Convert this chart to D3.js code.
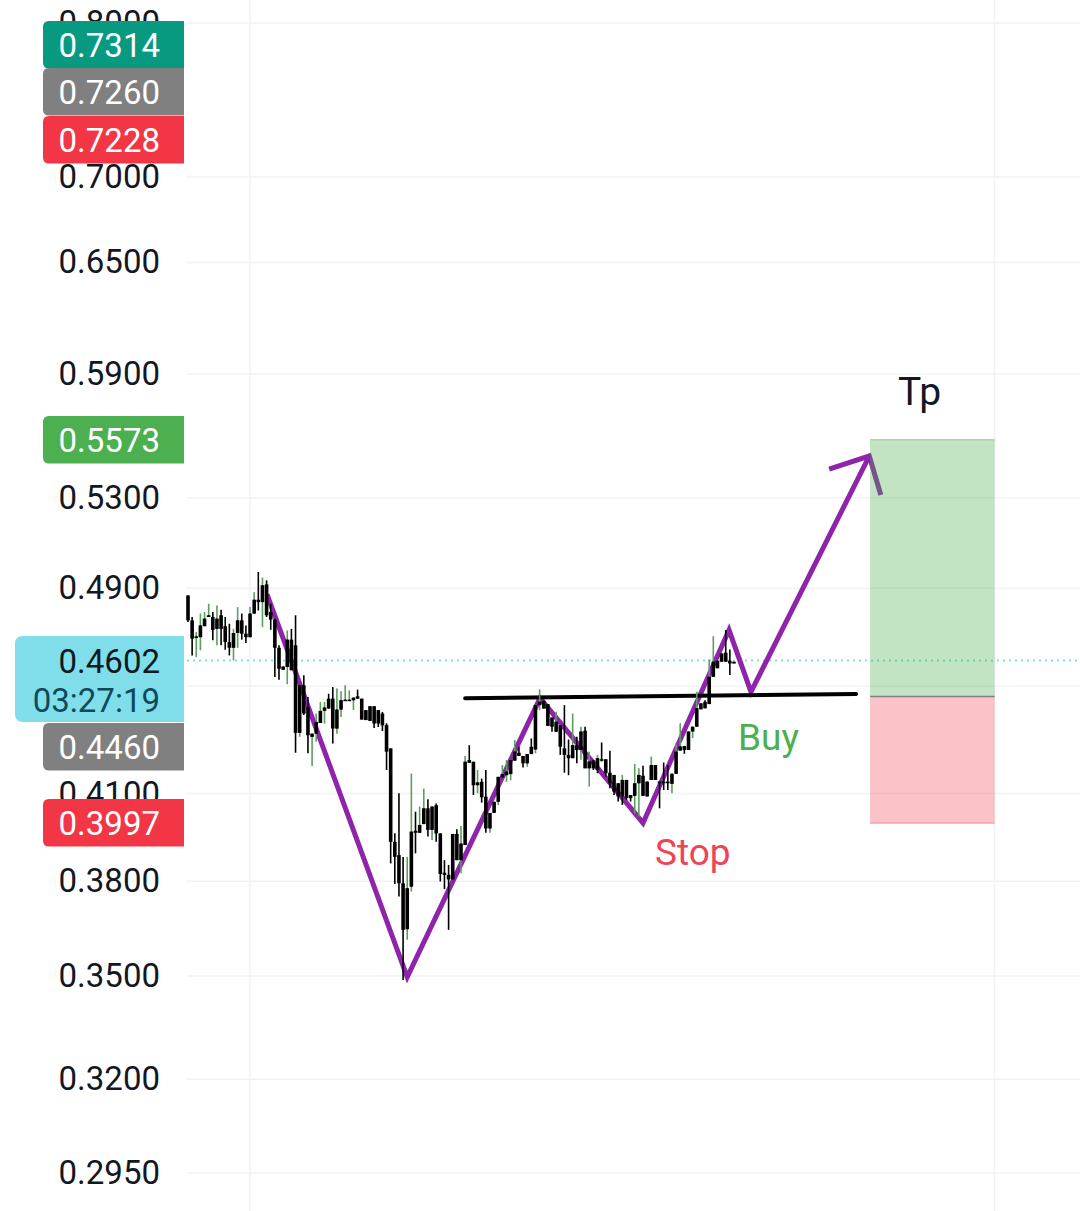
<!DOCTYPE html>
<html>
<head>
<meta charset="utf-8">
<script src="https://cdn.jsdelivr.net/npm/d3@7"></script>
<style>
  html, body { margin: 0; padding: 0; background: #fff; }
  svg { display: block; }
  text { font-family: Roboto, sans-serif; }
</style>
</head>
<body>
<div id="chart"></div>
<script>
// candle bodies, one entry per bar
var bodyTop = [
  .4869,.4765,.4699,.4744,.4772,.4786,.4779,.4772,.4786,.4741,
  .4676,.4713,.4765,.4765,.4710,.4793,.4851,.4851,.4912,.4916,
  .4800,.4768,.4653,.4578,.4686,.4686,.4663,.4504,.4504,.4420,
  .4319,.4363,.4405,.4418,.4452,.4452,.4410,.4446,.4448,.4448,
  .4456,.4461,.4452,.4408,.4423,.4423,.4408,.4395,
  .4351,.4264,.3932,.3887,.3793,.3777,.3967,.3970,.3990,.4048,
  .4048,.4054,.4059,.3961,.3828,.3821,.3959,.3959,.3926,.4215,
  .4221,.4215,.4140,.4142,.4089,.4032,.4071,.4160,.4170,.4179,
  .4221,.4252,.4248,.4236,.4243,.4270,.4427,.4440,.4444,.4431,
  .4380,.4364,.4351,.4264,.4240,.4276,.4276,.4327,.4330,.4216,
  .4219,.4228,.4224,.4224,.4175,.4167,.4137,.4149,.4149,.4095,
  .4137,.4167,.4164,.4143,.4203,.4203,.4143,.4143,.4143,.4171,
  .4252,.4271,.4273,.4327,.4345,.4415,.4434,.4440,.4537,.4597,
  .4601,.4630,.4633,.4601,.4597
];
var bodyBottom = [
  .4765,.4690,.4694,.4696,.4741,.4779,.4726,.4730,.4730,.4676,
  .4653,.4653,.4713,.4710,.4696,.4696,.4793,.4841,.4841,.4786,
  .4768,.4653,.4569,.4565,.4576,.4563,.4322,.4322,.4395,.4313,
  .4307,.4319,.4359,.4405,.4414,.4338,.4338,.4410,.4443,.4443,
  .4446,.4452,.4372,.4370,.4367,.4357,.4357,.4350,
  .4252,.3932,.3881,.3793,.3643,.3645,.3782,.3963,.3963,.3993,
  .3973,.3973,.3961,.3824,.3821,.3806,.3806,.3870,.3870,.3921,
  .4211,.4130,.4130,.4087,.3978,.3978,.4032,.4071,.4158,.4166,
  .4170,.4219,.4236,.4209,.4209,.4243,.4260,.4427,.4414,.4348,
  .4345,.4326,.4270,.4240,.4228,.4228,.4258,.4258,.4191,.4191,
  .4191,.4185,.4219,.4173,.4137,.4107,.4090,.4090,.4084,.4084,
  .4092,.4137,.4092,.4090,.4149,.4149,.4137,.4137,.4137,.4135,
  .4171,.4256,.4258,.4258,.4327,.4345,.4411,.4415,.4431,.4537,
  .4571,.4597,.4597,.4590,.4590
];
// black wicks, null = no wick past the body
var wickHigh = [
  null,.4779,null,null,null,null,.4800,null,.4809,.4779,
  .4751,null,null,.4793,.4744,null,null,.4969,null,.4933,
  .4834,.4772,.4663,null,null,.4730,.4786,null,.4543,.4458,
  null,null,null,null,.4471,.4497,null,null,null,null,
  null,.4487,null,null,null,null,null,.4401,
  .4358,null,.3961,.4101,.3881,null,null,.4036,null,null,
  .4080,null,.4065,null,.3870,.3854,null,.3975,null,null,
  .4276,null,null,.4154,.4185,null,null,null,null,null,
  null,null,.4270,null,null,.4301,null,null,null,null,
  null,null,null,.4427,.4297,null,.4307,null,.4345,null,
  .4222,null,.4286,null,.4255,null,null,null,null,null,
  null,null,.4200,null,null,null,null,.4212,.4203,null,
  null,null,null,null,null,null,null,.4446,null,null,
  null,null,.4725,.4646,null
];
var wickLow = [
  .4758,.4622,null,null,null,null,.4683,null,.4663,.4645,
  .4622,null,null,.4686,.4672,null,null,.4806,null,.4779,
  .4726,.4536,.4526,null,null,null,.4248,null,.4389,.4246,
  null,null,null,null,null,.4282,null,null,null,null,
  null,null,null,null,null,.4340,.4344,.4329,
  .4185,.3859,.3791,.3750,.3488,null,null,.3893,null,null,
  .3950,null,.3932,.3799,.3774,.3643,null,null,null,null,
  null,.4095,null,.4068,.3963,null,null,null,null,null,
  null,null,null,.4194,null,null,null,null,null,null,
  .4326,null,.4240,.4175,.4166,null,.4209,null,null,null,
  .4185,.4173,.4216,.4161,.4119,.4095,.4072,.4060,.4078,.4072,
  null,null,null,null,null,null,.4048,.4113,.4113,null,
  null,null,.4244,null,null,null,null,null,null,null,
  null,null,null,.4544,null
];
// thin green wicks
var greenHigh = [
  null,null,.4717,.4793,.4800,.4834,null,.4827,null,null,
  null,.4730,.4820,null,null,.4820,.4883,null,.4945,null,
  null,null,null,null,.4723,null,null,null,null,null,
  null,.4395,.4439,.4439,null,null,.4491,.4481,.4504,.4484,
  null,null,null,null,null,null,null,null,
  null,null,null,null,null,.3881,.4172,null,.4054,.4118,
  null,null,null,null,null,null,null,null,.3986,.4236,
  null,null,.4185,null,null,null,null,null,.4203,.4221,
  null,.4295,null,null,null,null,null,.4488,null,null,
  null,.4402,null,null,null,.4395,null,.4345,null,.4252,
  null,.4240,null,null,null,null,null,.4167,null,null,
  .4207,.4191,null,null,.4234,null,null,null,null,.4173,
  .4283,.4358,null,null,null,.4479,null,null,.4606,.4700,
  null,null,null,null,null
];
var greenLow = [
  null,null,.4615,.4643,null,.4779,null,.4663,null,null,
  null,.4602,.4653,null,null,null,null,null,.4737,null,
  null,null,null,null,.4508,null,null,.4307,null,null,
  .4199,.4289,null,.4357,null,null,.4319,.4382,.4443,null,
  .4408,null,null,null,null,null,null,null,
  null,null,null,null,null,.3612,.3766,null,null,null,
  null,.3938,null,null,null,null,null,null,.3826,null,
  null,null,.4101,null,null,.3963,null,.4059,null,.4142,
  .4148,null,null,null,.4197,null,.4246,.4408,null,null,
  null,null,null,null,null,null,null,.4222,null,.4125,
  null,null,null,null,null,null,null,null,null,null,
  .4030,.4019,null,null,null,null,null,null,null,.4101,
  null,null,null,null,.4302,null,null,null,null,null,
  null,null,null,null,null
];

var priceTicks = [0.8, 0.7, 0.65, 0.59, 0.53, 0.49, 0.45, 0.41, 0.38, 0.35, 0.32, 0.295];
var timeGridBars = [15, 195];

// hand drawn pattern, [bar, price]
var patternBars   = [19.1, 53, 85.1, 110, 130.8, 136.1, 164.7];
var patternPrices = [.4874, .3497, .4454, .3997, .4725, .4478, .5495];
var arrowBars     = [155, 164.7, 167.5];
var arrowPrices   = [.5433, .5495, .5312];
var necklineBars   = [67, 161.5];
var necklinePrices = [.4454, .4470];

var boxBars = [164.9, 195];
var targetPrice = 0.5573, entryPrice = 0.4460, stopPrice = 0.3997;
var lastPrice = 0.4602;

var labelTexts  = ["0.7314", "0.7260", "0.7228", "0.5573", "0.4460", "0.3997"];
var labelColors = ["#089981", "#808080", "#f23645", "#4caf50", "#808080", "#f23645"];
var labelTops   = [21, 68, 116, 416, 723, 799]; // stacked by the app, not at their price

var width = 1080, height = 1211;

var svg = d3.select("#chart").append("svg")
    .attr("width", width)
    .attr("height", height);

var x = d3.scaleLinear().domain([0, 132]).range([188, 734]);
var y = d3.scaleLog().domain([0.35, 0.7]).range([976, 177]);

// grid
svg.append("g").selectAll("line")
    .data(priceTicks)
    .enter().append("line")
    .attr("x1", 187).attr("x2", width)
    .attr("y1", d => y(d)).attr("y2", d => y(d))
    .attr("stroke", "#f0f2f5").attr("stroke-width", 1.5);

svg.append("g").selectAll("line")
    .data(timeGridBars)
    .enter().append("line")
    .attr("x1", d => x(d)).attr("x2", d => x(d))
    .attr("y1", 0).attr("y2", height)
    .attr("stroke", "#f0f2f5").attr("stroke-width", 1.5);

// price axis
var yAxis = d3.axisLeft(y)
    .tickValues(priceTicks)
    .tickFormat(d3.format(".4f"))
    .tickSize(0)
    .tickPadding(0);

var axisG = svg.append("g")
    .attr("transform", "translate(160,0)")
    .call(yAxis);
axisG.select(".domain").remove();
axisG.selectAll("text")
    .attr("font-size", 33)
    .attr("font-family", "Roboto, sans-serif")
    .attr("fill", "#131722");

// last price dots
svg.append("line")
    .attr("x1", 187).attr("x2", width)
    .attr("y1", y(lastPrice)).attr("y2", y(lastPrice))
    .attr("stroke", "#80deea").attr("stroke-width", 2)
    .attr("stroke-dasharray", "2 4");

// pattern goes under the candles
var line = d3.line().x(d => x(d[0])).y(d => y(d[1]));
var purple = "#8e24aa";

svg.append("path")
    .datum(d3.zip(patternBars, patternPrices))
    .attr("d", line)
    .attr("fill", "none").attr("stroke", purple).attr("stroke-width", 5)
    .attr("stroke-linejoin", "miter");

svg.append("path")
    .datum(d3.zip(arrowBars, arrowPrices))
    .attr("d", line)
    .attr("fill", "none").attr("stroke", purple).attr("stroke-width", 5);

svg.append("path")
    .datum(d3.zip(necklineBars, necklinePrices))
    .attr("d", line)
    .attr("fill", "none").attr("stroke", "#000").attr("stroke-width", 4)
    .attr("stroke-linecap", "round");

// candles
var bars = d3.range(bodyTop.length);

svg.append("g").selectAll("line")
    .data(bars.filter(i => greenHigh[i] != null || greenLow[i] != null))
    .enter().append("line")
    .attr("x1", i => x(i)).attr("x2", i => x(i))
    .attr("y1", i => y(greenHigh[i] != null ? greenHigh[i] : bodyTop[i]))
    .attr("y2", i => y(greenLow[i] != null ? greenLow[i] : bodyBottom[i]))
    .attr("stroke", "#5c9e5f").attr("stroke-width", 1.6);

svg.append("g").selectAll("line")
    .data(bars)
    .enter().append("line")
    .attr("x1", i => x(i)).attr("x2", i => x(i))
    .attr("y1", i => y(wickHigh[i] != null ? wickHigh[i] : bodyTop[i]))
    .attr("y2", i => y(wickLow[i] != null ? wickLow[i] : bodyBottom[i]))
    .attr("stroke", "#000").attr("stroke-width", 1.6);

svg.append("g").selectAll("rect")
    .data(bars)
    .enter().append("rect")
    .attr("x", i => x(i) - 1.8)
    .attr("width", 3.6)
    .attr("y", i => y(bodyTop[i]))
    .attr("height", i => Math.max(1.5, y(bodyBottom[i]) - y(bodyTop[i])))
    .attr("fill", "#000");

// long position box
svg.append("rect")
    .attr("x", x(boxBars[0])).attr("width", x(boxBars[1]) - x(boxBars[0]))
    .attr("y", y(targetPrice)).attr("height", y(entryPrice) - y(targetPrice))
    .attr("fill", "#4caf50").attr("fill-opacity", 0.34);

svg.append("rect")
    .attr("x", x(boxBars[0])).attr("width", x(boxBars[1]) - x(boxBars[0]))
    .attr("y", y(entryPrice)).attr("height", y(stopPrice) - y(entryPrice))
    .attr("fill", "#f23645").attr("fill-opacity", 0.3);

[[targetPrice, "#a9d6aa"], [entryPrice, "#808080"], [stopPrice, "#f3a3aa"]].forEach(function(b) {
    svg.append("line")
        .attr("x1", x(boxBars[0])).attr("x2", x(boxBars[1]))
        .attr("y1", y(b[0])).attr("y2", y(b[0]))
        .attr("stroke", b[1]).attr("stroke-width", 1.5);
});

// annotations
svg.append("text").text("Tp")
    .attr("x", 898).attr("y", 405)
    .attr("font-size", 39).attr("fill", "#131722");
svg.append("text").text("Buy")
    .attr("x", 738).attr("y", 750)
    .attr("font-size", 37).attr("fill", "#4caf50");
svg.append("text").text("Stop")
    .attr("x", 655).attr("y", 865)
    .attr("font-size", 37).attr("fill", "#ee4455");

// left rounded price tags
function tagPath(left, top, right, bottom, r) {
    return "M" + right + "," + top + "H" + (left + r) +
        "Q" + left + "," + top + " " + left + "," + (top + r) +
        "V" + (bottom - r) +
        "Q" + left + "," + bottom + " " + (left + r) + "," + bottom +
        "H" + right + "Z";
}

var tags = svg.append("g").selectAll("g")
    .data(labelTexts)
    .enter().append("g");

tags.append("path")
    .attr("d", (d, i) => tagPath(43, labelTops[i], 184, labelTops[i] + 47.5, 6))
    .attr("fill", (d, i) => labelColors[i]);

tags.append("text")
    .text(d => d)
    .attr("x", 160)
    .attr("y", (d, i) => labelTops[i] + 24)
    .attr("dy", "0.35em")
    .attr("text-anchor", "end")
    .attr("font-size", 33)
    .attr("fill", "#fff");

// last price tag with countdown
svg.append("path")
    .attr("d", tagPath(15, 636, 184, 722, 8))
    .attr("fill", "#80deea");
svg.append("text").text("0.4602")
    .attr("x", 160).attr("y", y(lastPrice) + 1).attr("dy", "0.35em")
    .attr("text-anchor", "end").attr("font-size", 33).attr("fill", "#0b1a22");
svg.append("text").text("03:27:19")
    .attr("x", 160).attr("y", 700).attr("dy", "0.35em")
    .attr("text-anchor", "end").attr("font-size", 33).attr("fill", "#0e4a5a");
</script>
</body>
</html>
